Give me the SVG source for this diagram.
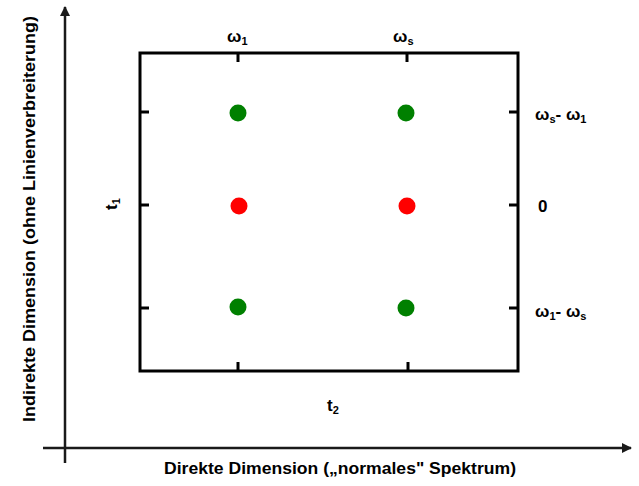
<svg xmlns="http://www.w3.org/2000/svg" width="639" height="486" viewBox="0 0 639 486">
<style>
.frame{fill:none;stroke:#000;stroke-width:3}
.tick{stroke:#000;stroke-width:3}
.axis{stroke:#1a1a1a;stroke-width:2.5;fill:none}
.lbl{font-family:"Liberation Sans",Arial,sans-serif;font-weight:bold;font-size:17px;fill:#000}
.g{fill:#008000}
.r{fill:#ff0000}
</style>
<defs>
<marker id="arr" viewBox="0 0 10 10" refX="9" refY="5" markerWidth="4" markerHeight="4" orient="auto" markerUnits="strokeWidth">
<path d="M0,0 L10,5 L0,10 z" fill="#1a1a1a"/>
</marker>
</defs>
<g id="connectors">
<line class="axis" x1="65" y1="463" x2="65" y2="7" marker-end="url(#arr)"/>
<line class="axis" x1="43" y1="448" x2="631" y2="448" marker-end="url(#arr)"/>
</g>
<g id="frame">
<rect class="frame" x="140" y="53" width="378" height="318"/>
<line class="tick" x1="238" y1="53" x2="238" y2="62"/>
<line class="tick" x1="407" y1="53" x2="407" y2="62"/>
<line class="tick" x1="238" y1="371" x2="238" y2="362"/>
<line class="tick" x1="408" y1="371" x2="408" y2="362"/>
<line class="tick" x1="140" y1="112" x2="149" y2="112"/>
<line class="tick" x1="140" y1="205" x2="149" y2="205"/>
<line class="tick" x1="140" y1="308" x2="149" y2="308"/>
<line class="tick" x1="518" y1="112" x2="509" y2="112"/>
<line class="tick" x1="518" y1="205" x2="509" y2="205"/>
<line class="tick" x1="518" y1="308" x2="509" y2="308"/>
</g>
<g id="peaks">
<circle id="p1" class="g" cx="238" cy="113" r="8.5"/>
<circle id="p2" class="g" cx="406" cy="113" r="8.5"/>
<circle id="p3" class="r" cx="239" cy="206" r="8.5"/>
<circle id="p4" class="r" cx="407" cy="206" r="8.5"/>
<circle id="p5" class="g" cx="238" cy="307" r="8.5"/>
<circle id="p6" class="g" cx="406" cy="308" r="8.5"/>
</g>
<g id="labels">
<text class="lbl" x="227" y="42">ω<tspan font-size="11" dy="3">1</tspan></text>
<text class="lbl" x="393" y="42">ω<tspan font-size="11" dy="3">s</tspan></text>
<text class="lbl" x="535" y="120">ω<tspan font-size="11" dy="3">s</tspan><tspan dy="-3">- ω</tspan><tspan font-size="11" dy="3">1</tspan></text>
<text class="lbl" x="538" y="212">0</text>
<text class="lbl" x="535" y="317">ω<tspan font-size="11" dy="3">1</tspan><tspan dy="-3">- ω</tspan><tspan font-size="11" dy="3">s</tspan></text>
<text class="lbl" transform="translate(117,210) rotate(-90)">t<tspan font-size="11" dy="3">1</tspan></text>
<text class="lbl" x="327" y="411">t<tspan font-size="11" dy="3">2</tspan></text>
<text class="lbl" x="340" y="474" text-anchor="middle" textLength="352" lengthAdjust="spacingAndGlyphs">Direkte Dimension („normales" Spektrum)</text>
<text class="lbl" transform="translate(35,219) rotate(-90)" text-anchor="middle" textLength="406" lengthAdjust="spacingAndGlyphs">Indirekte Dimension (ohne Linienverbreiterung)</text>
</g>
</svg>
